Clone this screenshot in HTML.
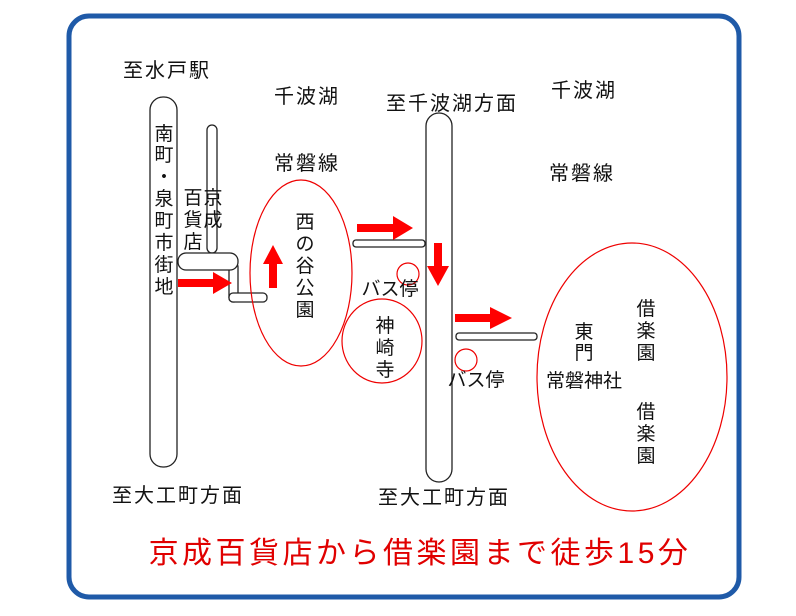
<!DOCTYPE html>
<html><head><meta charset="utf-8"><style>
html,body{margin:0;padding:0;background:#fff;}
svg{display:block;}
text{font-family:"Liberation Sans","Noto Sans CJK JP",sans-serif;font-size:19px;fill:#111;}
.h{font-size:20px;letter-spacing:2px;}
</style></head><body>
<svg width="796" height="616" viewBox="0 0 796 616" xmlns="http://www.w3.org/2000/svg">
<rect x="69" y="16" width="670" height="581" rx="20" fill="#fff" stroke="#1f5aa8" stroke-width="5"/>
<g fill="#fff" stroke="#222" stroke-width="1.3">
<rect x="150" y="97" width="27" height="370" rx="13"/>
<rect x="207" y="125" width="10" height="128" rx="5"/>
<rect x="229" y="263" width="9" height="39" rx="4"/>
<rect x="229" y="293" width="38" height="9" rx="4"/>
<rect x="178" y="253" width="60" height="17" rx="8"/>
<rect x="353" y="240" width="72" height="7" rx="3"/>
<rect x="426" y="113" width="26" height="369" rx="13"/>
<rect x="456" y="333" width="81" height="7" rx="3"/>
</g>
<g fill="none" stroke="#e00" stroke-width="1.2">
<ellipse cx="301" cy="273" rx="51" ry="93"/>
<circle cx="408" cy="274" r="11"/>
<ellipse cx="382" cy="341" rx="40" ry="42"/>
<circle cx="466" cy="360" r="11"/>
<ellipse cx="632" cy="377" rx="95" ry="134"/>
</g>
<g fill="#f00">
<polygon points="178,279 213,279 213,272 232,283 213,294 213,287 178,287"/>
<polygon points="269,288 269,264 263,264 273,245 283,264 277,264 277,288"/>
<polygon points="357,224 393,224 393,216 413,228 393,240 393,232 357,232"/>
<polygon points="434,243 442,243 442,266 449,266 438,286 427,266 434,266"/>
<polygon points="455,314 490,314 490,307 512,318 490,329 490,322 455,322"/>
</g>
<text class="h" x="167" y="77" text-anchor="middle">至水戸駅</text>
<text class="h" x="307" y="103" text-anchor="middle">千波湖</text>
<text class="h" x="307" y="170" text-anchor="middle">常磐線</text>
<text class="h" x="452" y="110" text-anchor="middle">至千波湖方面</text>
<text class="h" x="584" y="97" text-anchor="middle">千波湖</text>
<text class="h" x="582" y="180" text-anchor="middle">常磐線</text>
<text class="h" x="178" y="502" text-anchor="middle">至大工町方面</text>
<text class="h" x="444" y="504" text-anchor="middle">至大工町方面</text>
<g text-anchor="middle">
<text x="164" y="140">南</text><text x="164" y="161">町</text><text x="164" y="183">・</text><text x="164" y="205">泉</text><text x="164" y="227">町</text><text x="164" y="249">市</text><text x="164" y="271">街</text><text x="164" y="293">地</text>
<text x="213" y="204">京</text><text x="213" y="226">成</text>
<text x="193" y="204">百</text><text x="193" y="226">貨</text><text x="193" y="248">店</text>
<text x="305" y="228">西</text><text x="305" y="250">の</text><text x="305" y="272">谷</text><text x="305" y="294">公</text><text x="305" y="316">園</text>
<text x="385" y="332">神</text><text x="385" y="354">崎</text><text x="385" y="376">寺</text>
<text x="584" y="338">東</text><text x="584" y="359">門</text>
<text x="646" y="315">借</text><text x="646" y="337">楽</text><text x="646" y="359">園</text>
<text x="646" y="418">借</text><text x="646" y="440">楽</text><text x="646" y="462">園</text>
<text x="390" y="295">バス停</text>
<text x="476" y="386">バス停</text>
<text x="584" y="387">常磐神社</text>
</g>
<text x="420" y="563" text-anchor="middle" style="font-size:30px;letter-spacing:3.5px;fill:#e00000;">京成百貨店から借楽園まで徒歩15分</text>
</svg>
</body></html>
